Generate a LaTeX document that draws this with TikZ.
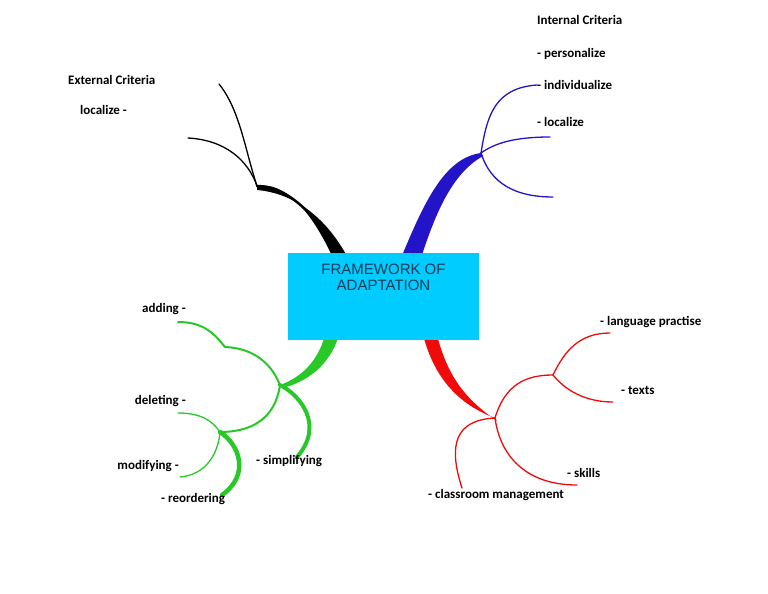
\documentclass[tikz,border=0pt]{standalone}
\usepackage{fontspec}
\setmainfont{Carlito}
\newfontfamily\boxfont{Liberation Sans}
\usetikzlibrary{positioning,calc}
\definecolor{boxcyan}{RGB}{0,204,255}
\definecolor{boxtext}{RGB}{20,60,90}
\definecolor{intblue}{RGB}{35,20,200}
\definecolor{modgreen}{RGB}{40,200,40}
\definecolor{lingred}{RGB}{240,10,10}

\begin{document}
\begin{tikzpicture}[x=1pt,y=-1pt,
    lbl/.style={font=\fontsize{13}{15}\selectfont\bfseries, inner sep=0pt, anchor=west},
    lblr/.style={lbl, anchor=east},
    twig/.style={line width=1.3pt, line cap=round},
    bough/.style={line width=2pt, line cap=round},
    limb/.style={line width=4.5pt, line cap=round},
    fwbox/.style={fill=boxcyan, minimum width=191pt, minimum height=87pt, inner sep=0pt},
    fwtext/.style={font=\boxfont\fontsize{15}{16.5}\selectfont, text=boxtext, align=center, inner sep=0pt}]
    \useasboundingbox (0,0) rectangle (768,594);

    \coordinate (bkb) at (257,186);
    \coordinate (bku) at (219,84);
    \coordinate (bkl) at (188,138);
    \coordinate (blb) at (481,153);
    \coordinate (blu) at (537,85);
    \coordinate (blm) at (550,137);
    \coordinate (bld) at (553,197);
    \coordinate (gb) at (280,385);
    \coordinate (gs) at (220,432);
    \coordinate (gadd) at (178,322);
    \coordinate (gdel) at (178,413);
    \coordinate (gmod) at (180,477);
    \coordinate (greo) at (222,495);
    \coordinate (gsim) at (297,457);
    \coordinate (rb) at (495,418);
    \coordinate (rs) at (553,375);
    \coordinate (rlp) at (610,333);
    \coordinate (rtx) at (613,402);
    \coordinate (rsk) at (577,485);
    \coordinate (rcm) at (462,488);

    % trunks
    \fill[black] (bkb) .. controls (285,181) and (312,212) .. (333,258) -- (348,258) .. controls (325,215) and (292,193) .. (257,190) -- cycle;
    \draw[line width=2.5pt, line cap=round] (bkb) .. controls (288,186) and (318,216) .. (340,258);
    \fill[intblue] (401,258) .. controls (425,200) and (445,158) .. (blb) -- (483,156) .. controls (455,172) and (438,205) .. (421,258) -- cycle;
    \fill[modgreen] (325,335) .. controls (318,362) and (300,378) .. (gb) -- (282,388) .. controls (305,383) and (330,366) .. (339,335) -- cycle;
    \fill[lingred] (423,335) .. controls (435,380) and (460,405) .. (rb) -- (497,421) .. controls (470,402) and (449,382) .. (437,335) -- cycle;

    \node[fwbox] (fw) at (383.5,296.5) {};
    \node[fwtext, below=11pt of fw.north] (fwt) {FRAMEWORK OF\\ADAPTATION};

    % external
    \draw[twig] (bkb) .. controls (245,150) and (240,110) .. (bku);
    \draw[twig] (bkb) .. controls (248,160) and (225,140) .. (bkl);
    % internal
    \draw[twig, intblue] (blb) .. controls (487,115) and (495,88) .. (blu);
    \draw[twig, intblue] (blb) .. controls (495,143) and (515,137) .. (blm);
    \draw[twig, intblue] (blb) .. controls (488,175) and (505,197) .. (bld);
    % modification
    \draw[bough, modgreen] (gb) .. controls (270,360) and (250,348) .. (225,347) .. controls (215,335) and (205,322) .. (gadd);
    \draw[bough, modgreen] (gb) .. controls (275,420) and (250,432) .. (gs);
    \draw[twig, modgreen] (gs) .. controls (212,420) and (200,413) .. (gdel);
    \draw[twig, modgreen] (gs) .. controls (218,455) and (205,475) .. (gmod);
    \draw[limb, modgreen] (gs) .. controls (240,445) and (250,475) .. (greo);
    \draw[limb, line width=4pt, modgreen] (gb) .. controls (300,395) and (325,425) .. (gsim);
    % linguistic
    \draw[twig, lingred] (rb) .. controls (505,385) and (525,375) .. (rs);
    \draw[twig, lingred] (rs) .. controls (565,350) and (580,333) .. (rlp);
    \draw[twig, lingred] (rs) .. controls (565,390) and (585,402) .. (rtx);
    \draw[twig, lingred] (rb) .. controls (500,455) and (525,485) .. (rsk);
    \draw[twig, lingred] (rb) .. controls (455,420) and (448,445) .. (rcm);

    \node[lbl] (intc) at (537,20) {Internal Criteria};
    \node[lbl] (pers) at (537,54) {- personalize};
    \node[lbl] (indi) at (537,85) {- individualize};
    \node[lbl] (iloc) at (537,122) {- localize};
    \node[lbl] (extc) at (68,80) {External Criteria};
    \node[lbl] (eloc) at (80,110) {localize -};
    \node[lblr] (add) at (186,309) {adding -};
    \node[lblr] (del) at (186,401) {deleting -};
    \node[lblr] (mod) at (179,466) {modifying -};
    \node[lbl] (reo) at (161,499) {- reordering};
    \node[lbl] (simp) at (256,461) {- simplifying};
    \node[lbl] (lang) at (600,322) {- language practise};
    \node[lbl] (txt) at (621,390) {- texts};
    \node[lbl] (skl) at (567,473) {- skills};
    \node[lbl] (clm) at (428,495) {- classroom management};
\end{tikzpicture}
\end{document}
